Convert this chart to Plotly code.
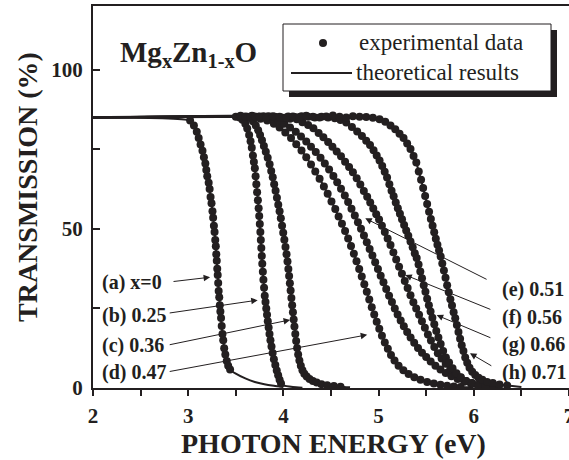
import plotly.graph_objects as go

INK = "#231f20"
SERIF = "Liberation Serif"

# ---------------- data (photon energy eV, transmission %) ----------------
E_a = [3.02, 3.06, 3.09, 3.11, 3.13, 3.15, 3.165, 3.18, 3.19, 3.20, 3.215, 3.225, 3.235, 3.245, 3.255,
       3.262, 3.27, 3.277, 3.284, 3.29, 3.295, 3.30, 3.305, 3.31, 3.315, 3.32, 3.326, 3.332, 3.338, 3.345,
       3.352, 3.36, 3.368, 3.378, 3.39, 3.405, 3.42, 3.44]
T_a = [84, 82.5, 80.5, 78.5, 76.5, 74.5, 72.5, 70.5, 68.5, 66.5, 64.5, 62.5, 60, 58, 55.5,
       53.5, 51, 49, 46.5, 44.5, 42, 40, 37.5, 35.5, 33, 30.5, 28.5, 26, 24, 22,
       19.5, 17, 15, 12.5, 10.5, 8.5, 7, 5.8]
tailE_a = [3.5, 3.6, 3.7, 3.8, 3.9, 4.0]
tailT_a = [4.5, 3.0, 1.9, 1.2, 0.7, 0.3]

E_b = [3.50, 3.54, 3.57, 3.60, 3.62, 3.64, 3.655, 3.668, 3.68, 3.69, 3.70, 3.708, 3.716, 3.724, 3.732,
       3.74, 3.746, 3.752, 3.758, 3.763, 3.768, 3.773, 3.778, 3.784, 3.79, 3.797, 3.804, 3.812, 3.82, 3.828,
       3.836, 3.845, 3.854, 3.864, 3.875, 3.887, 3.90, 3.915, 3.93, 3.945, 3.96, 3.975]
T_b = [85.2, 85, 84.3, 83, 81.5, 79.5, 77.5, 75.5, 73, 71, 69, 66.5, 64, 61.5, 59,
       56.5, 54, 51.5, 49, 46.5, 44, 41.5, 39, 36.5, 34, 31.5, 29, 27, 25, 23,
       21, 19, 17, 15, 13, 11, 9, 7.2, 5.5, 4, 2.6, 1.4]
tailE_b = [4.0, 4.1, 4.2]
tailT_b = [0.8, 0.3, 0.1]

E_c = [3.64, 3.68, 3.71, 3.735, 3.755, 3.775, 3.795, 3.815, 3.835, 3.855, 3.872, 3.888, 3.903, 3.918, 3.932,
       3.946, 3.96, 3.973, 3.986, 3.998, 4.01, 4.022, 4.033, 4.043, 4.052, 4.06, 4.068, 4.076, 4.084, 4.092,
       4.10, 4.108, 4.116, 4.125, 4.134, 4.144, 4.155, 4.168, 4.183, 4.20, 4.22, 4.245, 4.275, 4.31, 4.35,
       4.40, 4.46, 4.53, 4.60]
T_c = [84.8, 83.8, 82.5, 81, 79.5, 77.8, 76, 74.2, 72.3, 70.3, 68.2, 66.2, 64, 62, 59.8,
       57.6, 55.5, 53.3, 51, 48.8, 46.6, 44.3, 42, 39.7, 37.4, 35.2, 32.9, 30.6, 28.3, 26,
       23.8, 21.5, 19.3, 17, 14.8, 12.6, 10.5, 8.6, 7, 5.6, 4.5, 3.6, 2.8, 2.2, 1.7,
       1.2, 0.9, 0.6, 0.4]
tailE_c = [4.7]
tailT_c = [0.2]

E_d = [3.55, 3.62, 3.69, 3.76, 3.83, 3.90, 3.96, 4.02, 4.08, 4.135, 4.19, 4.24, 4.29, 4.335, 4.38,
       4.425, 4.465, 4.505, 4.545, 4.58, 4.615, 4.648, 4.68, 4.71, 4.74, 4.768, 4.796, 4.823, 4.85, 4.876,
       4.902, 4.928, 4.954, 4.98, 5.007, 5.035, 5.065, 5.097, 5.13, 5.167, 5.21, 5.26, 5.315, 5.375, 5.44,
       5.51, 5.58, 5.65, 5.72, 5.79, 5.86]
T_d = [85.5, 85.2, 85, 84.6, 84, 83, 81.8, 80.3, 78.5, 76.6, 74.6, 72.5, 70.2, 68, 65.7,
       63.3, 61, 58.6, 56.2, 53.9, 51.6, 49.3, 47, 44.6, 42.2, 39.8, 37.4, 35, 32.6, 30.2,
       27.8, 25.4, 23.1, 20.8, 18.6, 16.4, 14.3, 12.3, 10.4, 8.6, 7, 5.6, 4.4, 3.4, 2.6,
       1.9, 1.4, 1.0, 0.7, 0.5, 0.35]
tailE_d = [6.0]
tailT_d = [0.2]

E_e = [3.60, 3.67, 3.74, 3.81, 3.88, 3.95, 4.01, 4.07, 4.13, 4.185, 4.24, 4.29, 4.34, 4.39, 4.435,
       4.48, 4.525, 4.565, 4.605, 4.645, 4.68, 4.715, 4.75, 4.783, 4.815, 4.846, 4.876, 4.906, 4.935, 4.964,
       4.993, 5.022, 5.051, 5.08, 5.11, 5.14, 5.17, 5.2, 5.232, 5.265, 5.3, 5.336, 5.374, 5.414, 5.456,
       5.5, 5.547, 5.597, 5.65, 5.705, 5.765, 5.83, 5.9, 5.97, 6.04, 6.11, 6.18]
T_e = [85.3, 85.5, 85.2, 85, 84.7, 84, 83, 81.8, 80.5, 79, 77.4, 75.8, 74.1, 72.3, 70.5,
       68.6, 66.6, 64.6, 62.6, 60.5, 58.4, 56.3, 54.2, 52.1, 50, 47.9, 45.8, 43.7, 41.6, 39.5,
       37.4, 35.3, 33.2, 31.1, 29, 27, 25, 23.1, 21.2, 19.4, 17.6, 15.9, 14.2, 12.6, 11.1,
       9.7, 8.3, 7, 5.8, 4.7, 3.7, 2.8, 2.0, 1.4, 0.9, 0.6, 0.4]
tailE_e = [6.3]
tailT_e = [0.2]

E_f = [3.65, 3.72, 3.79, 3.86, 3.93, 4.0, 4.07, 4.14, 4.2, 4.26, 4.315, 4.37, 4.42, 4.47, 4.515,
       4.56, 4.605, 4.648, 4.69, 4.73, 4.77, 4.808, 4.845, 4.88, 4.912, 4.944, 4.975, 5.005, 5.035, 5.065,
       5.095, 5.125, 5.155, 5.185, 5.215, 5.245, 5.275, 5.305, 5.335, 5.365, 5.395, 5.425, 5.455, 5.486, 5.518,
       5.55, 5.585, 5.622, 5.662, 5.705, 5.752, 5.803, 5.858, 5.918, 5.982, 6.05, 6.12, 6.19]
T_f = [85.2, 85, 85.4, 85.2, 85, 84.8, 84.6, 84.4, 83.5, 82.6, 81.6, 80.1, 78.8, 77.3, 75.8,
       74.3, 72.8, 71.1, 69.4, 67.8, 65.9, 63.9, 61.9, 60.1, 58.3, 56.4, 54.6, 52.9, 51, 49,
       47, 44.9, 42.6, 40.4, 38.1, 35.9, 33.6, 31.4, 29.1, 26.9, 25, 23, 21, 18.9, 16.8,
       14.9, 12.9, 10.9, 9.3, 7.6, 5.9, 4.5, 3.3, 2.2, 1.6, 1.0, 0.7, 0.45]
tailE_f = [6.3]
tailT_f = [0.2]

E_g = [3.70, 3.77, 3.84, 3.91, 3.98, 4.05, 4.12, 4.19, 4.26, 4.33, 4.40, 4.47, 4.54, 4.60, 4.66,
       4.72, 4.775, 4.825, 4.87, 4.91, 4.947, 4.98, 5.01, 5.038, 5.064, 5.089, 5.113, 5.136, 5.158, 5.18,
       5.202, 5.224, 5.246, 5.268, 5.29, 5.312, 5.335, 5.358, 5.38, 5.40, 5.42, 5.438, 5.456, 5.474, 5.492,
       5.51, 5.528, 5.546, 5.565, 5.585, 5.606, 5.628, 5.652, 5.678, 5.707, 5.74, 5.777, 5.818, 5.865, 5.92,
       5.98, 6.05, 6.12]
T_g = [85.3, 85, 85.4, 85.2, 85, 85.3, 85.1, 85.4, 85.2, 85, 85.2, 85, 84.7, 84.2, 83.4,
       82, 80.6, 79.2, 77.7, 76.3, 74.7, 73, 71.5, 69.7, 67.9, 66.1, 64, 62, 60.2, 58.3,
       56.5, 54.7, 53, 51.2, 49.5, 47.8, 46, 44.2, 42.3, 40.8, 38.8, 36.6, 34.5, 32.3, 30.2,
       28, 26, 24, 22.1, 20, 17.9, 15.9, 13.8, 11.6, 9.6, 8, 6.2, 4.6, 3.4, 2.2,
       1.5, 0.9, 0.55]
tailE_g = [6.3]
tailT_g = [0.2]

E_h = [3.75, 3.82, 3.89, 3.96, 4.03, 4.10, 4.17, 4.24, 4.31, 4.38, 4.45, 4.52, 4.59, 4.66, 4.73,
       4.80, 4.87, 4.94, 5.01, 5.07, 5.125, 5.175, 5.22, 5.262, 5.3, 5.335, 5.367, 5.396, 5.422, 5.446,
       5.468, 5.489, 5.51, 5.53, 5.549, 5.567, 5.584, 5.601, 5.618, 5.635, 5.652, 5.669, 5.686, 5.703, 5.72,
       5.737, 5.754, 5.771, 5.788, 5.805, 5.822, 5.839, 5.856, 5.873, 5.891, 5.91, 5.931, 5.955, 5.983, 6.015,
       6.05, 6.09, 6.14, 6.2, 6.27, 6.35]
T_h = [85.3, 85, 85.4, 85.2, 85, 85.3, 85.1, 85.5, 85.2, 85, 85.3, 85.6, 85.2, 85, 85.4,
       85.2, 85.1, 84.9, 84.4, 83.6, 82.5, 81.3, 79.9, 78.5, 76.8, 75.1, 72.9, 70.8, 68, 65.4,
       62.8, 60.3, 57.8, 55.4, 53.1, 51, 48.9, 46.9, 45, 43.2, 41.3, 39.1, 36.9, 34.6, 32.3,
       30.1, 27.9, 25.9, 23.8, 21.9, 19.8, 17.6, 15.5, 13.4, 11.6, 9.6, 7.9, 6.4, 5.1, 4.1,
       3.2, 2.6, 1.9, 1.6, 1.1, 0.8]
tailE_h = [6.5]
tailT_h = [0.3]

PLATEAU_E = 2.0
PLATEAU_T = 85.0

series = [
    (E_a, T_a, tailE_a, tailT_a),
    (E_b, T_b, tailE_b, tailT_b),
    (E_c, T_c, tailE_c, tailT_c),
    (E_d, T_d, tailE_d, tailT_d),
    (E_e, T_e, tailE_e, tailT_e),
    (E_f, T_f, tailE_f, tailT_f),
    (E_g, T_g, tailE_g, tailT_g),
    (E_h, T_h, tailE_h, tailT_h),
]

# labels with arrows: (text, label E, label T, anchor, tail E, tail T, tip E, tip T)
labels = [
    ("(a) x=0", 2.074, 33.0, "left", 2.83, 33.4, 3.23, 34.8),
    ("(b) 0.25", 2.074, 22.9, "left", 2.79, 23.5, 3.73, 27.6),
    ("(c) 0.36", 2.074, 13.5, "left", 2.79, 13.5, 4.07, 21.4),
    ("(d) 0.47", 2.074, 5.0, "left", 2.79, 5.1, 4.88, 16.7),
    ("(e) 0.51", 6.275, 31.1, "left", 6.15, 33.9, 4.86, 53.3),
    ("(f) 0.56", 6.275, 22.0, "left", 6.19, 24.5, 5.28, 35.5),
    ("(g) 0.66", 6.275, 13.8, "left", 6.19, 15.6, 5.61, 22.9),
    ("(h) 0.71", 6.275, 5.0, "left", 6.20, 6.7, 5.96, 10.9),
]

# ---------------- figure ----------------
W, H = 569, 460
ML, MR, MT, MB = 93, 0, 6, 72
PW, PH = W - ML - MR, H - MT - MB


def px(x):
    return (x - ML) / PW


def py(y):
    return (H - MB - y) / PH


fig = go.Figure()

for E, T, tE, tT in series:
    fig.add_trace(go.Scatter(
        x=[PLATEAU_E] + E + tE, y=[PLATEAU_T] + T + tT,
        mode="lines", line=dict(color=INK, width=2, shape="spline", smoothing=0.6),
        showlegend=False, hoverinfo="skip"))

for E, T, tE, tT in series:
    fig.add_trace(go.Scatter(
        x=E, y=T, mode="markers",
        marker=dict(color=INK, size=8, line=dict(width=0)),
        showlegend=False))

annotations = []
for text, lx, ly, anc, ax, ay, tx, ty in labels:
    annotations.append(dict(
        x=lx, y=ly, xref="x", yref="y", text="<b>" + text + "</b>", showarrow=False,
        xanchor=anc, yanchor="middle",
        font=dict(family=SERIF, size=20, color=INK)))
    annotations.append(dict(
        x=tx, y=ty, xref="x", yref="y", ax=ax, ay=ay, axref="x", ayref="y",
        text="", showarrow=True, arrowhead=2, arrowsize=1.3, arrowwidth=1,
        arrowcolor=INK, standoff=0))

# title
annotations.append(dict(
    x=px(118), y=py(54), xref="paper", yref="paper", xanchor="left", yanchor="middle",
    text="<b>Mg<sub>x</sub>Zn<sub>1-x</sub>O</b>", showarrow=False,
    font=dict(family=SERIF, size=29, color=INK)))

# axis titles
annotations.append(dict(
    x=px(333), y=py(443), xref="paper", yref="paper", xanchor="center", yanchor="middle",
    text="<b>PHOTON ENERGY (eV)</b>", showarrow=False,
    font=dict(family=SERIF, size=28, color=INK)))
annotations.append(dict(
    x=px(27), y=py(187), xref="paper", yref="paper", xanchor="center", yanchor="middle",
    text="<b>TRANSMISSION (%)</b>", showarrow=False, textangle=-90,
    font=dict(family=SERIF, size=28, color=INK)))

# legend
annotations.append(dict(
    x=px(357), y=py(43), xref="paper", yref="paper", xanchor="left", yanchor="middle",
    text="experimental data", showarrow=False,
    font=dict(family=SERIF, size=23, color=INK)))
annotations.append(dict(
    x=px(354), y=py(72), xref="paper", yref="paper", xanchor="left", yanchor="middle",
    text="theoretical results", showarrow=False,
    font=dict(family=SERIF, size=23, color=INK)))

shapes = [
    dict(type="rect", xref="paper", yref="paper", x0=px(289), x1=px(557), y0=py(97), y1=py(30),
         fillcolor=INK, line=dict(width=0), layer="above"),
    dict(type="rect", xref="paper", yref="paper", x0=px(283), x1=px(551), y0=py(91), y1=py(24),
         fillcolor="white", line=dict(color=INK, width=1), layer="above"),
    dict(type="circle", xref="paper", yref="paper", x0=px(319), x1=px(327), y0=py(47), y1=py(39),
         fillcolor=INK, line=dict(width=0), layer="above"),
    dict(type="line", xref="paper", yref="paper", x0=px(291), x1=px(352), y0=py(73), y1=py(73),
         line=dict(color=INK, width=2), layer="above"),
]

fig.update_layout(
    width=W, height=H,
    margin=dict(l=ML, r=MR, t=MT, b=MB, autoexpand=False),
    paper_bgcolor="white", plot_bgcolor="white",
    showlegend=False,
    annotations=annotations, shapes=shapes,
    xaxis=dict(range=[2, 7], tick0=2, dtick=1, ticks="outside", ticklen=6, tickwidth=1.5,
               tickcolor=INK, showline=True, linewidth=2, linecolor=INK, mirror=True,
               showgrid=False, zeroline=False, automargin=False, ticklabelstandoff=2,
               ticklabeloverflow="allow",
               minor=dict(dtick=0.5, ticks="outside", ticklen=6, tickwidth=1.5, tickcolor=INK,
                          showgrid=False),
               tickfont=dict(family=SERIF, size=21, color=INK, weight="bold")),
    yaxis=dict(range=[0, 120], tick0=0, dtick=50, ticks="inside", ticklen=7, tickwidth=1.5,
               tickcolor=INK, showline=True, linewidth=2, linecolor=INK, mirror=False,
               showgrid=False, zeroline=False, automargin=False, ticklabelstandoff=4,
               minor=dict(dtick=25, ticks="inside", ticklen=7, tickwidth=1.5, tickcolor=INK,
                          showgrid=False),
               tickfont=dict(family=SERIF, size=21, color=INK, weight="bold")),
)

fig.write_html("out.html")
